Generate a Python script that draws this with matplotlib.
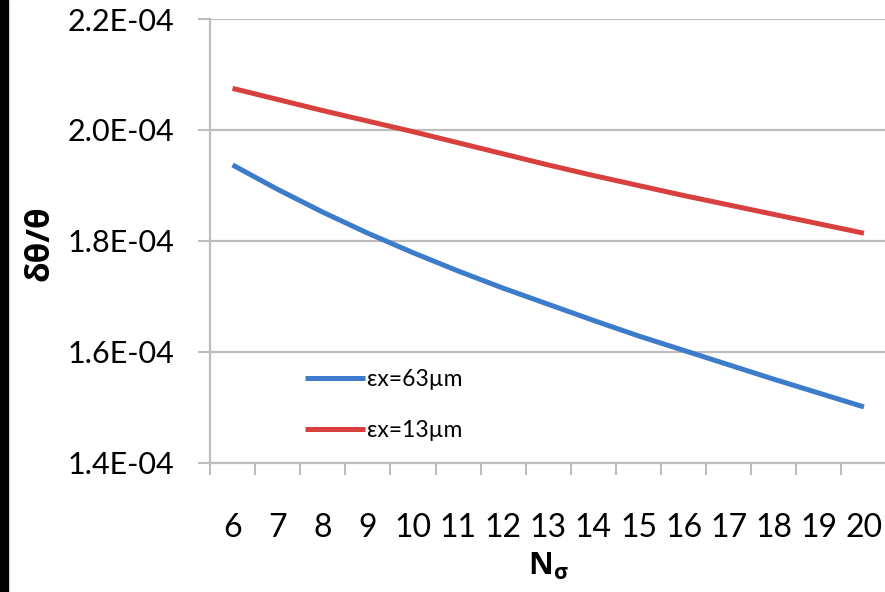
import matplotlib
matplotlib.use("Agg")
import matplotlib.pyplot as plt
from matplotlib.patches import Rectangle

# number of sigmas (category axis)
n_sigma = [6, 7, 8, 9, 10, 11, 12, 13, 14, 15, 16, 17, 18, 19, 20]

# relative resolution for the two emittances
dtheta_63 = [1.937e-4, 1.893e-4, 1.852e-4, 1.814e-4, 1.779e-4, 1.746e-4, 1.715e-4, 1.686e-4,
             1.657e-4, 1.629e-4, 1.603e-4, 1.577e-4, 1.551e-4, 1.526e-4, 1.501e-4]
dtheta_13 = [2.075e-4, 2.055e-4, 2.035e-4, 2.016e-4, 1.997e-4, 1.977e-4, 1.957e-4, 1.937e-4,
             1.918e-4, 1.900e-4, 1.882e-4, 1.865e-4, 1.848e-4, 1.831e-4, 1.814e-4]

y_ticks = [1.4e-4, 1.6e-4, 1.8e-4, 2.0e-4, 2.2e-4]
y_ticklabels = ["1.4E-04", "1.6E-04", "1.8E-04", "2.0E-04", "2.2E-04"]

label_63 = "εx=63µm"
label_13 = "εx=13µm"

plt.rcParams['font.family'] = ['Lato', 'DejaVu Sans']
plt.rcParams['mathtext.fontset'] = 'custom'
plt.rcParams['mathtext.rm'] = 'Open Sans:bold'
plt.rcParams['mathtext.it'] = 'Open Sans:bold'
plt.rcParams['mathtext.bf'] = 'Open Sans:bold'

grey = '#bdbdbd'
blue = '#3d7ccb'
red = '#d8403e'

fig = plt.figure(figsize=(8.85, 5.92), dpi=100)
ax = fig.add_axes([210 / 885, 1 - 463 / 592, 676.5 / 885, 444 / 592])

pos = list(range(len(n_sigma)))
ax.plot(pos, dtheta_63, color=blue, lw=3.6, solid_capstyle='butt', label=label_63)
ax.plot(pos, dtheta_13, color=red, lw=3.6, solid_capstyle='butt', label=label_13)

ax.set_xlim(-0.5, len(n_sigma) - 0.5)
ax.set_ylim(y_ticks[0], y_ticks[-1])

# category labels in the middle, tick marks on the boundaries
ax.set_xticks(pos)
ax.set_xticklabels([str(n) for n in n_sigma], fontsize=23, va='baseline')
ax.set_xticks([p - 0.5 for p in pos] + [pos[-1] + 0.5], minor=True)
ax.tick_params(axis='x', which='major', length=0, pad=53)
ax.tick_params(axis='x', which='minor', length=8.5, width=1.5, color=grey, direction='out')

ax.set_yticks(y_ticks)
ax.set_yticklabels(y_ticklabels, fontsize=22)
ax.tick_params(axis='y', length=9, width=1.5, color=grey, direction='out', pad=17)
ax.yaxis.grid(True, color=grey, lw=1.6)
ax.set_axisbelow(True)

for side in ['top', 'right']:
    ax.spines[side].set_visible(False)
for side in ['left', 'bottom']:
    ax.spines[side].set_color(grey)
    ax.spines[side].set_linewidth(1.6)

ax.set_ylabel("δθ/θ", fontsize=24, fontweight='bold', family=['Open Sans', 'DejaVu Sans'], va='center')
ax.yaxis.set_label_coords(-0.251, 0.4955)
ax.set_xlabel(r"$\mathbf{N}_{\sigma}$", fontsize=22, va='baseline')
ax.xaxis.set_label_coords(0.5, -0.252)

leg = ax.legend(loc='upper left', bbox_to_anchor=(0.11, 0.258), frameon=False,
                fontsize=16.5, handlelength=2.6, handletextpad=0.1, labelspacing=1.3)

# dark strip along the left border
fig.patches.append(Rectangle((0, 0), 8 / 885, 1, transform=fig.transFigure,
                             color='black', zorder=10))

fig.savefig("out.png", dpi=100)
